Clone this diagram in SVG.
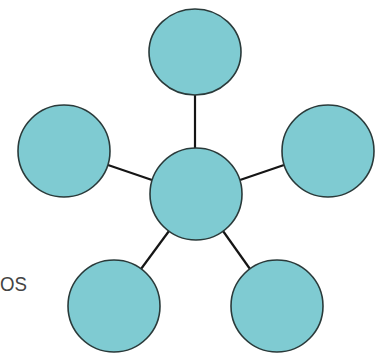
<svg xmlns="http://www.w3.org/2000/svg" width="382" height="361" viewBox="0 0 382 361">
<style>
.node{fill:#7fcbd2;stroke:#2a3a3a;stroke-width:1.6}
.edge{stroke:#151515;stroke-width:2.2;fill:none}
.lbl{font-family:"Liberation Sans",Arial,sans-serif;font-size:21px;fill:#444}
</style>
<rect width="382" height="361" fill="#ffffff"/>
<g id="connectors">
<line class="edge" x1="195" y1="95" x2="195" y2="148"/>
<line class="edge" x1="108" y1="165" x2="152" y2="180"/>
<line class="edge" x1="240" y1="180" x2="284" y2="165"/>
<line class="edge" x1="169" y1="231" x2="141" y2="269"/>
<line class="edge" x1="223" y1="231" x2="250" y2="269"/>
</g>
<g id="node-top"><ellipse class="node" cx="195" cy="52" rx="46" ry="43"/></g>
<g id="node-left"><circle class="node" cx="64" cy="151" r="46"/></g>
<g id="node-right"><circle class="node" cx="328" cy="151" r="46"/></g>
<g id="node-center"><circle class="node" cx="196" cy="194" r="46"/></g>
<g id="node-bottom-left"><circle class="node" cx="114" cy="306" r="46"/></g>
<g id="node-bottom-right"><circle class="node" cx="277" cy="306" r="46"/></g>
<text class="lbl" x="0" y="291" textLength="27" lengthAdjust="spacingAndGlyphs">OS</text>
</svg>
